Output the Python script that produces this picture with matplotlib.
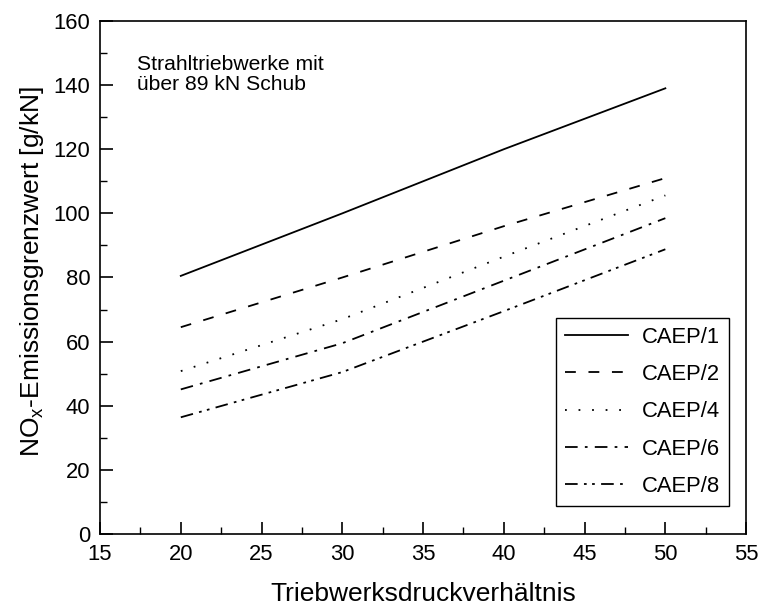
import matplotlib
matplotlib.use("Agg")
import matplotlib.pyplot as plt
from matplotlib.ticker import MultipleLocator

plt.rcParams['font.family'] = ['Liberation Sans', 'DejaVu Sans']
plt.rcParams['mathtext.fontset'] = 'custom'
plt.rcParams['mathtext.rm'] = 'Liberation Sans'

# Engine pressure ratio and NOx limit values per CAEP stage
pressure_ratio = [20, 30, 40, 50]
caep1 = [80.5, 100.0, 120.0, 139.0]
caep2 = [64.5, 80.0, 96.0, 111.0]
caep4 = [50.8, 67.0, 86.5, 105.6]
caep6 = [45.1, 59.5, 79.0, 98.5]
caep8 = [36.4, 50.5, 69.5, 88.8]

labels = ['CAEP/1', 'CAEP/2', 'CAEP/4', 'CAEP/6', 'CAEP/8']
series = [caep1, caep2, caep4, caep6, caep8]
styles = ['-', (0, (6, 7)), (0, (1, 6.5)), (0, (7, 4, 1.5, 4)), (0, (7, 3.5, 1.5, 3, 1.5, 3.5))]

fig = plt.figure(figsize=(7.59, 6.08), dpi=100)
ax = fig.add_axes([0.1318, 0.1217, 0.8512, 0.8438])

for vals, lab, ls in zip(series, labels, styles):
    ax.plot(pressure_ratio, vals, color='black', linewidth=1.3, linestyle=ls, label=lab)

ax.set_xlim(15, 55)
ax.set_ylim(0, 160)
ax.xaxis.set_major_locator(MultipleLocator(5))
ax.xaxis.set_minor_locator(MultipleLocator(2.5))
ax.yaxis.set_major_locator(MultipleLocator(20))
ax.yaxis.set_minor_locator(MultipleLocator(10))
ax.tick_params(which='major', direction='in', length=9, width=1.2, labelsize=15.8, pad=7)
ax.tick_params(which='minor', direction='in', length=5, width=1.0)
for s in ax.spines.values():
    s.set_linewidth(1.2)

ax.set_xlabel('Triebwerksdruckverhältnis', fontsize=19, labelpad=12.5)
ax.set_ylabel('NO$_\\mathregular{x}$-Emissionsgrenzwert [g/kN]', fontsize=19)
ax.yaxis.set_label_coords(-0.083, 0.512)

ax.text(17.3, 149.5, 'Strahltriebwerke mit\nüber 89 kN Schub', fontsize=15.2,
        va='top', ha='left', linespacing=1.1)

leg = ax.legend(loc='lower right', bbox_to_anchor=(0.9737, 0.0546), borderaxespad=0,
                fontsize=15.8, handlelength=2.85, handletextpad=0.64, labelspacing=0.74,
                fancybox=False, edgecolor='black', framealpha=1, borderpad=0.42)
leg.get_frame().set_linewidth(1.0)

fig.savefig('out.png', dpi=100)
